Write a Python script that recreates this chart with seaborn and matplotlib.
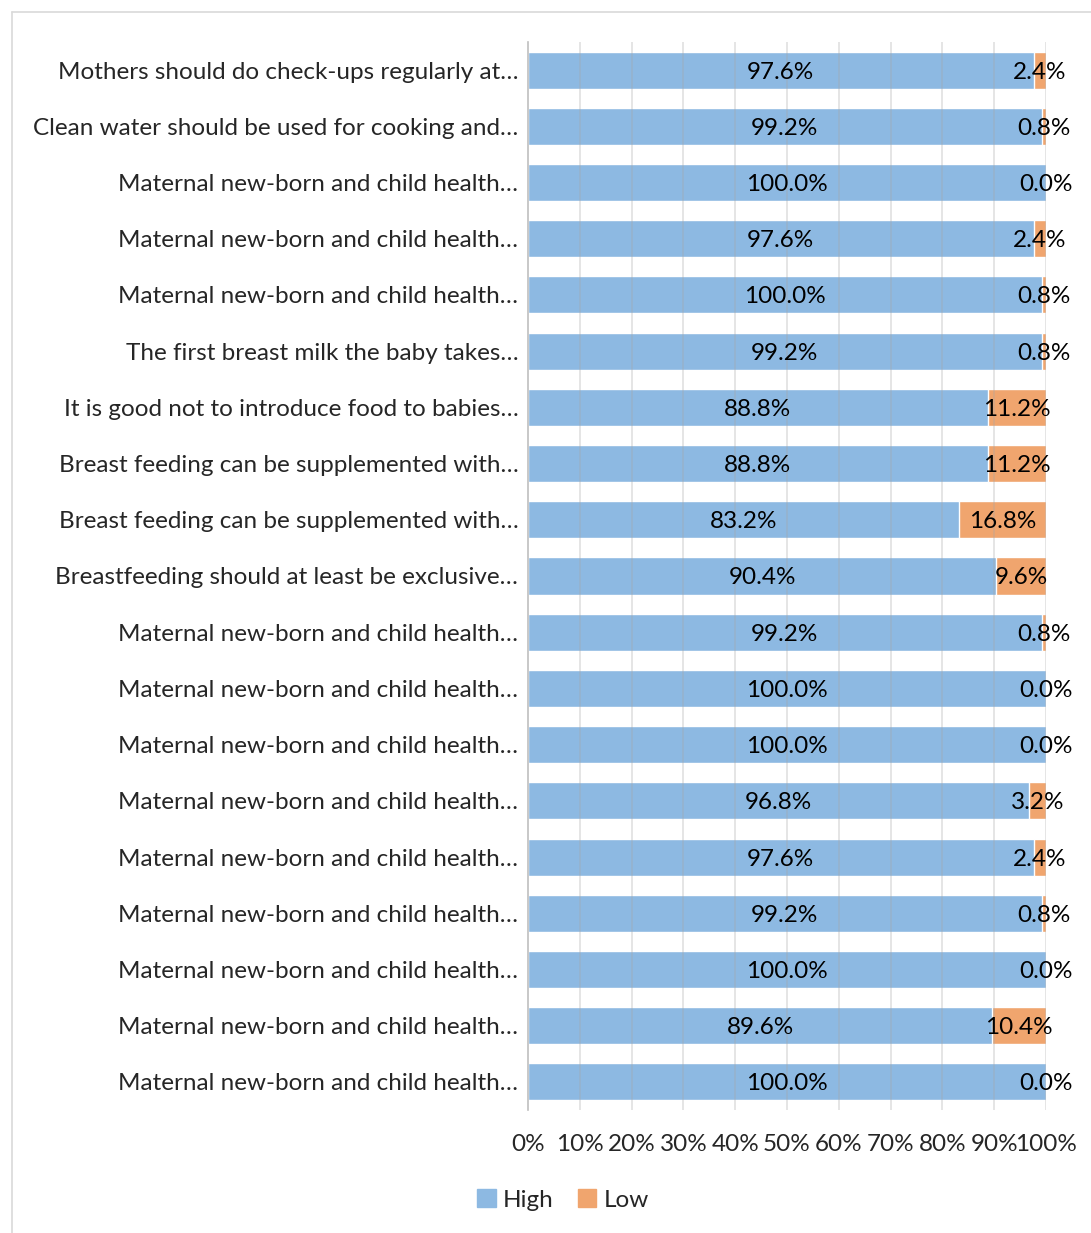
import matplotlib
matplotlib.use('Agg')
import matplotlib.pyplot as plt
import seaborn as sns
import pandas as pd
import numpy as np
from matplotlib.patches import Patch
from matplotlib.lines import Line2D

sns.set_style('white')
plt.rcParams['font.family'] = ['Lato', 'DejaVu Sans']

statements = [
    'Mothers should do check-ups regularly at…',
    'Clean water should be used for cooking and…',
    'Maternal new-born and child health…',
    'Maternal new-born and child health…',
    'Maternal new-born and child health…',
    'The first breast milk the baby takes…',
    'It is good not to introduce food to babies…',
    'Breast feeding can be supplemented with…',
    'Breast feeding can be supplemented with…',
    'Breastfeeding should at least be exclusive…',
    'Maternal new-born and child health…',
    'Maternal new-born and child health…',
    'Maternal new-born and child health…',
    'Maternal new-born and child health…',
    'Maternal new-born and child health…',
    'Maternal new-born and child health…',
    'Maternal new-born and child health…',
    'Maternal new-born and child health…',
    'Maternal new-born and child health…',
]
high = [97.6, 99.2, 100.0, 97.6, 100.0, 99.2, 88.8, 88.8, 83.2, 90.4,
        99.2, 100.0, 100.0, 96.8, 97.6, 99.2, 100.0, 89.6, 100.0]
low = [2.4, 0.8, 0.0, 2.4, 0.8, 0.8, 11.2, 11.2, 16.8, 9.6,
       0.8, 0.0, 0.0, 3.2, 2.4, 0.8, 0.0, 10.4, 0.0]

BLUE = '#8DB9E2'
ORANGE = '#F0A56E'
FS = 17.5

df = pd.DataFrame({'row': [str(i) for i in range(len(statements))],
                   'high': high, 'low': low})
df['total'] = df['high'] + df['low']
df['high_share'] = df['high'] / df['total'] * 100
df['full'] = 100.0

fig = plt.figure(figsize=(10.91, 12.33), dpi=100)
ax = fig.add_axes([528/1091, 1 - 1110/1233, (1046-528)/1091, (1110-42)/1233])

sns.barplot(data=df, x='full', y='row', color=ORANGE, orient='h', width=0.66,
            saturation=1, ax=ax, zorder=2)
sns.barplot(data=df, x='high_share', y='row', color=BLUE, orient='h', width=0.66,
            saturation=1, ax=ax, zorder=2)

for i, r in df.iterrows():
    ax.text(r['high_share'] / 2, i, f"{r['high']:.1f}%", ha='center', va='center_baseline',
            fontsize=FS, color='black', zorder=4)
    ax.text((r['high_share'] + 100) / 2, i, f"{r['low']:.1f}%", ha='center',
            va='center_baseline', fontsize=FS, color='black', zorder=4)

ax.set_xlim(0, 100)
ax.set_ylim(len(statements) - 0.5, -0.5)
ax.set_xticks(np.arange(0, 101, 10))
ax.set_xticklabels([f'{v}%' for v in range(0, 101, 10)], fontsize=FS)
ax.set_yticks(range(len(statements)))
ax.set_yticklabels(statements, fontsize=FS, va='center_baseline')
ax.tick_params(axis='x', length=0, pad=17)
ax.tick_params(axis='y', length=0, pad=7)
ax.set_xlabel('')
ax.set_ylabel('')
for v in range(10, 101, 10):
    ax.axvline(v, color='#a6a6a6', lw=1.2, alpha=0.35, zorder=3)
for s in ['top', 'right', 'bottom']:
    ax.spines[s].set_visible(False)
ax.spines['left'].set_color('#bfbfbf')
ax.spines['left'].set_linewidth(1.2)

handles = [Patch(color=BLUE, label='High'), Patch(color=ORANGE, label='Low')]
fig.legend(handles=handles, loc='center', bbox_to_anchor=(563/1091, 1 - 1200/1233),
           ncol=2, frameon=False, fontsize=FS, handlelength=0.75, handleheight=0.75,
           handletextpad=0.3, columnspacing=1.0)

# outer chart-area border (left and top edges visible)
fig.add_artist(Line2D([12/1091, 12/1091], [0, 1 - 12/1233], color='#d9d9d9', lw=1.2))
fig.add_artist(Line2D([12/1091, 1], [1 - 12/1233, 1 - 12/1233], color='#d9d9d9', lw=1.2))

fig.savefig('out.png', dpi=100)
